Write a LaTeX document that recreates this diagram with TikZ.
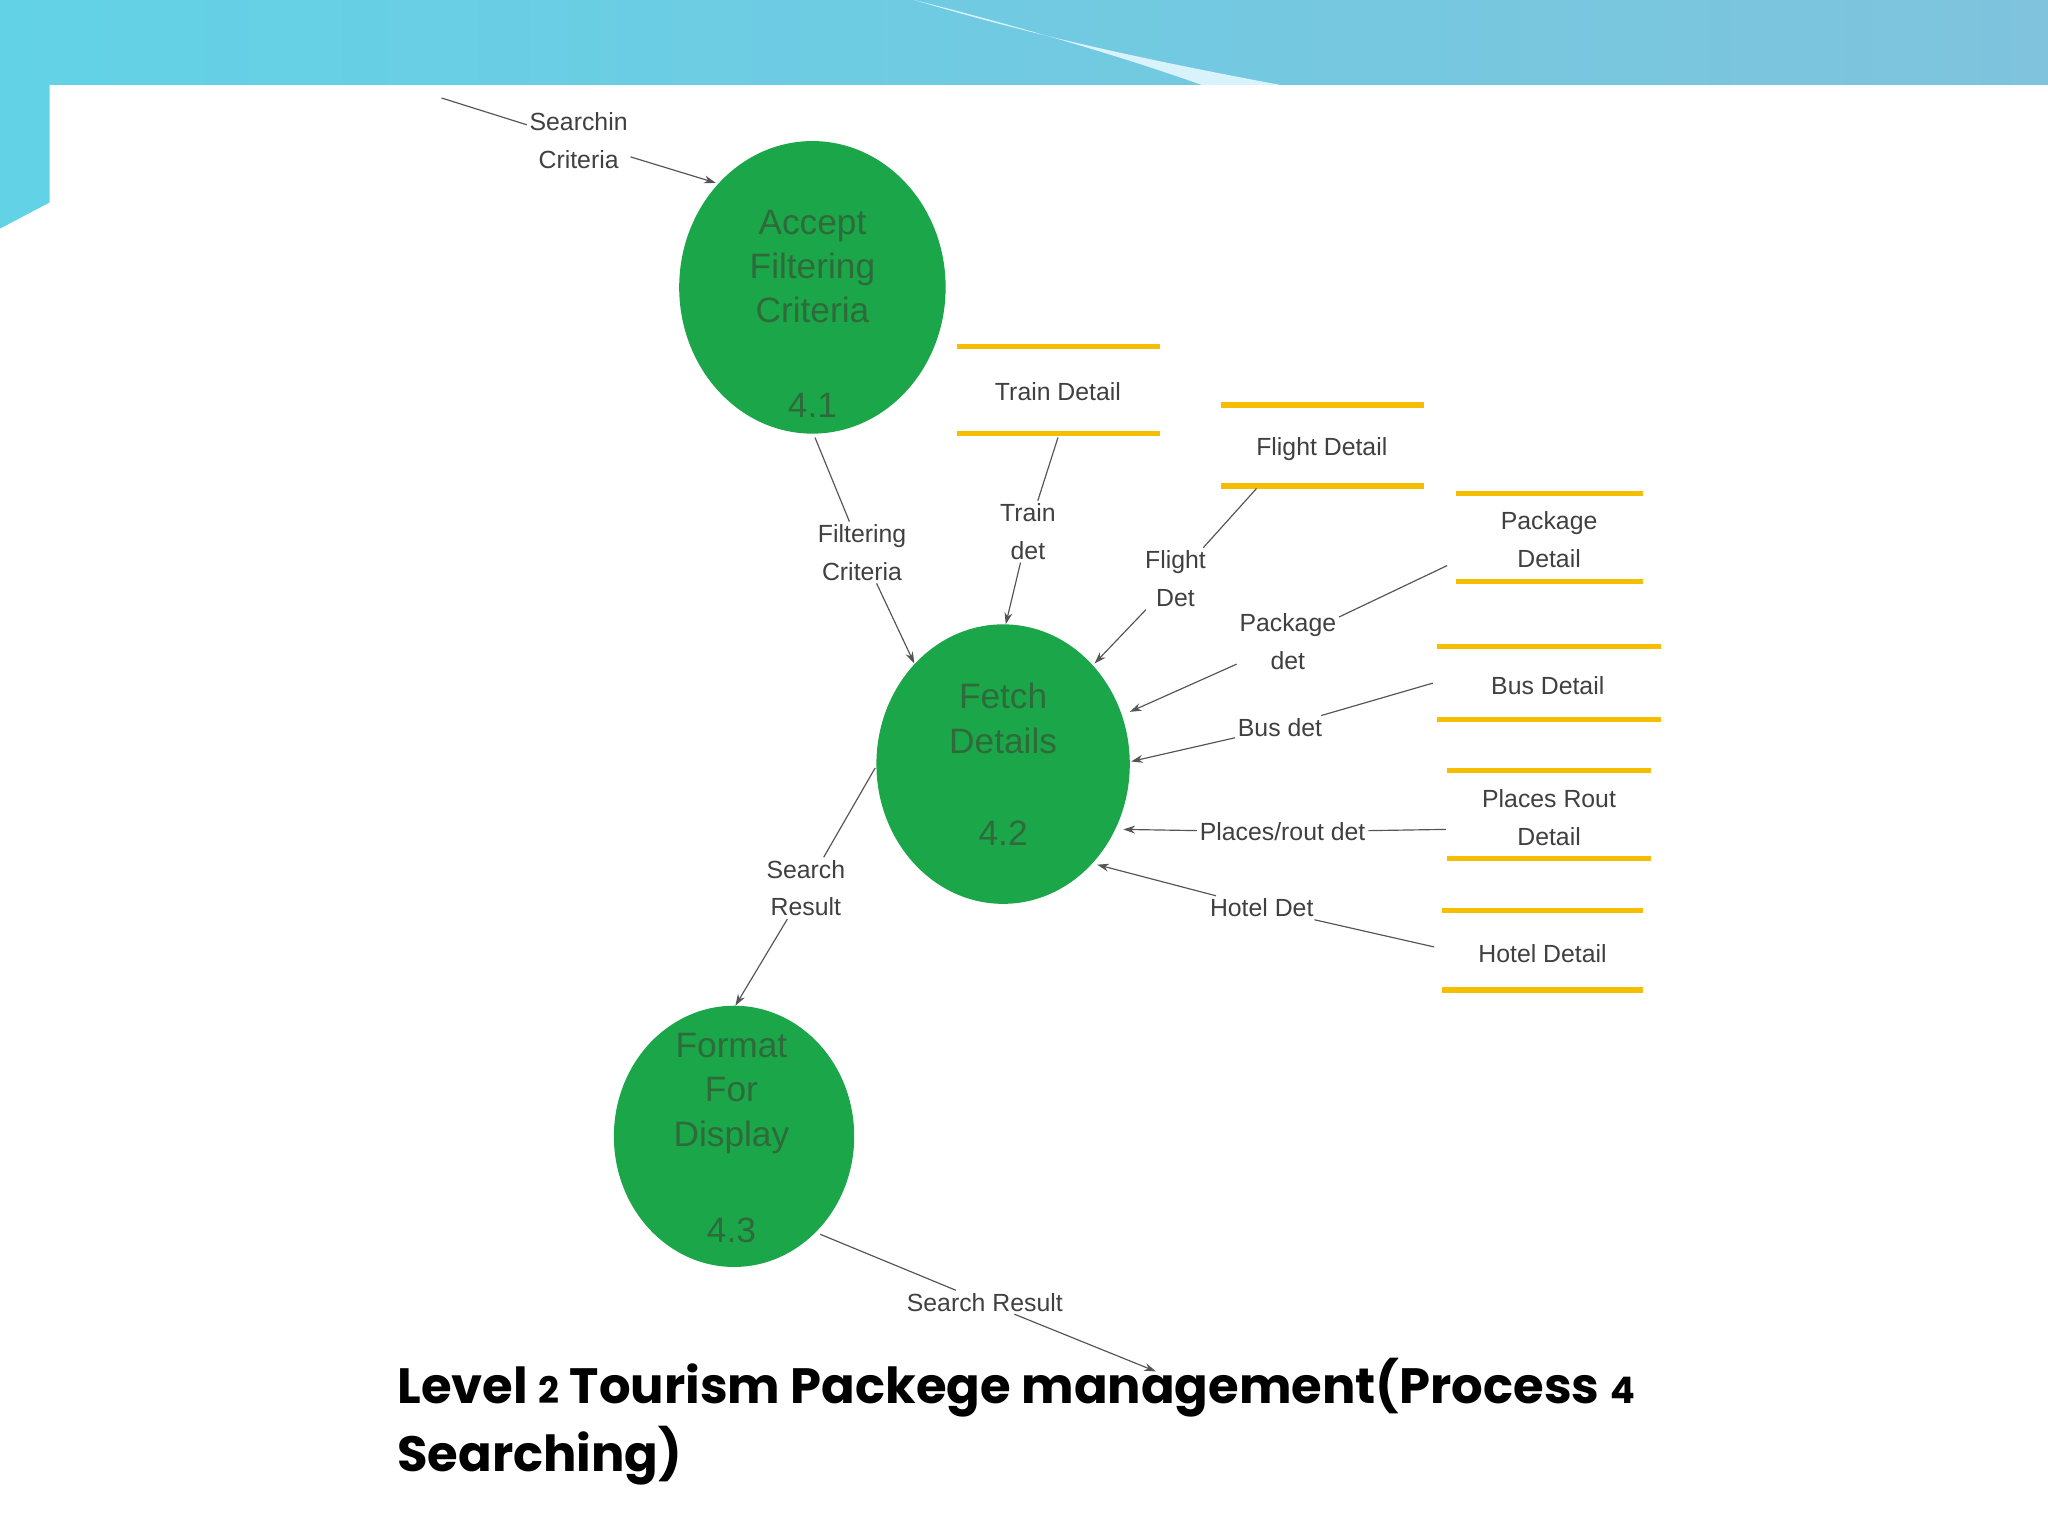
\documentclass[tikz,border=0pt]{standalone}
\usepackage{fontspec}
\setmainfont{Liberation Sans}
\newfontfamily\titlefont{Poppins}
\usetikzlibrary{arrows.meta,shapes.geometric}
\definecolor{pgreen}{HTML}{1BA64A}
\definecolor{ptext}{HTML}{2F6B3A}
\definecolor{store}{HTML}{F5BE00}
\definecolor{lineg}{HTML}{555555}
\definecolor{bgl}{HTML}{62D2E6}
\definecolor{bgr}{HTML}{7FC3DD}
\begin{document}
\begin{tikzpicture}[x=1pt,y=-1pt,
  proc/.style={ellipse,fill=pgreen,draw=none},
  ptxt/.style={font=\fontsize{27}{34}\selectfont,text=ptext,align=center},
  lab/.style={font=\fontsize{19}{29}\selectfont,text=black!75,align=center,inner sep=2pt},
  flow/.style={draw=lineg,line width=0.9pt},
  arr/.style={flow,-{Stealth[length=9pt,width=6pt]}},
  sline/.style={draw=store,line width=4pt}]
\useasboundingbox (0,0) rectangle (1568,1176);
% background
\shade[left color=bgl,right color=bgr] (0,0) rectangle (1568,65);
\fill[bgl] (0,65) -- (38,65) -- (38,155) -- (0,175) -- cycle;
\fill[white] (38,65) rectangle (1568,1176);
\fill[white] (0,175) rectangle (38,1176);
\fill[white!85!cyan] (700,0) .. controls (800,30) and (900,50) .. (980,65) -- (920,65) .. controls (850,40) and (760,15) .. (700,0);
% processes
\node[proc,minimum width=204,minimum height=224] (p1) at (622,220) {};
\node[ptxt] at (622,204) {Accept\\Filtering\\Criteria};
\node[ptxt] at (622,310) {4.1};
\node[proc,minimum width=194,minimum height=214] (p2) at (768,585) {};
\node[ptxt] at (768,550) {Fetch\\Details};
\node[ptxt] at (768,638) {4.2};
\node[proc,minimum width=184,minimum height=200] (p3) at (562,870) {};
\node[ptxt] at (560,837) {Format\\For\\Display};
\node[ptxt] at (560,942) {4.3};
% stores
\draw[sline] (733,265) -- (888,265) (733,332) -- (888,332);
\node[lab] (st) at (810,300) {Train Detail};
\draw[sline] (935,310) -- (1090,310) (935,372) -- (1090,372);
\node[lab] (sf) at (1012,344) {Flight Detail};
\draw[sline] (1115,378) -- (1258,378) (1115,445) -- (1258,445);
\node[lab] (sp) at (1186,413) {Package\\Detail};
\draw[sline] (1100,495) -- (1272,495) (1100,551) -- (1272,551);
\node[lab] (sb) at (1185,525) {Bus Detail};
\draw[sline] (1108,590) -- (1264,590) (1108,657) -- (1264,657);
\node[lab] (sr) at (1186,626) {Places Rout\\Detail};
\draw[sline] (1104,697) -- (1258,697) (1104,758) -- (1258,758);
\node[lab] (sh) at (1181,730) {Hotel Detail};
% flows
\coordinate (in) at (338,75);
\coordinate (out) at (885,1050);
\node[lab] (l1) at (443,108) {Searchin\\Criteria};
\draw[flow] (in) -- (l1); \draw[arr] (l1) -- (548,140);
\node[lab] (l2) at (660,423) {Filtering\\Criteria};
\draw[flow] (624,335) -- (l2); \draw[arr] (l2) -- (700,508);
\node[lab] (l3) at (787,407) {Train\\det};
\draw[flow] (810,335) -- (l3); \draw[arr] (l3) -- (770,478);
\node[lab] (l4) at (900,443) {Flight\\Det};
\draw[flow] (962,374) -- (l4); \draw[arr] (l4) -- (838,508);
\node[lab] (l5) at (986,491) {Package\\det};
\draw[flow] (1108,433) -- (l5); \draw[arr] (l5) -- (865,545);
\node[lab] (l6) at (980,557) {Bus det};
\draw[flow] (1097,523) -- (l6); \draw[arr] (l6) -- (866,583);
\node[lab] (l7) at (982,637) {Places/rout det};
\draw[flow] (1107,635) -- (l7); \draw[arr] (l7) -- (860,635);
\node[lab] (l8) at (966,695) {Hotel Det};
\draw[flow] (1098,725) -- (l8); \draw[arr] (l8) -- (840,662);
\node[lab] (l9) at (617,680) {Search\\Result};
\draw[flow] (670,588) -- (l9); \draw[arr] (l9) -- (563,770);
\node[lab] (l10) at (754,997) {Search Result};
\draw[flow] (628,945) -- (l10); \draw[arr] (l10) -- (out);
% title
\node[anchor=north west,align=left,inner sep=0pt,font=\titlefont\bfseries\fontsize{38}{52}\selectfont] (title) at (304,1040)
{Level {\fontsize{28}{30}\selectfont 2} Tourism Packege management(Process {\fontsize{28}{30}\selectfont 4}\\Searching)};
\end{tikzpicture}
\end{document}
